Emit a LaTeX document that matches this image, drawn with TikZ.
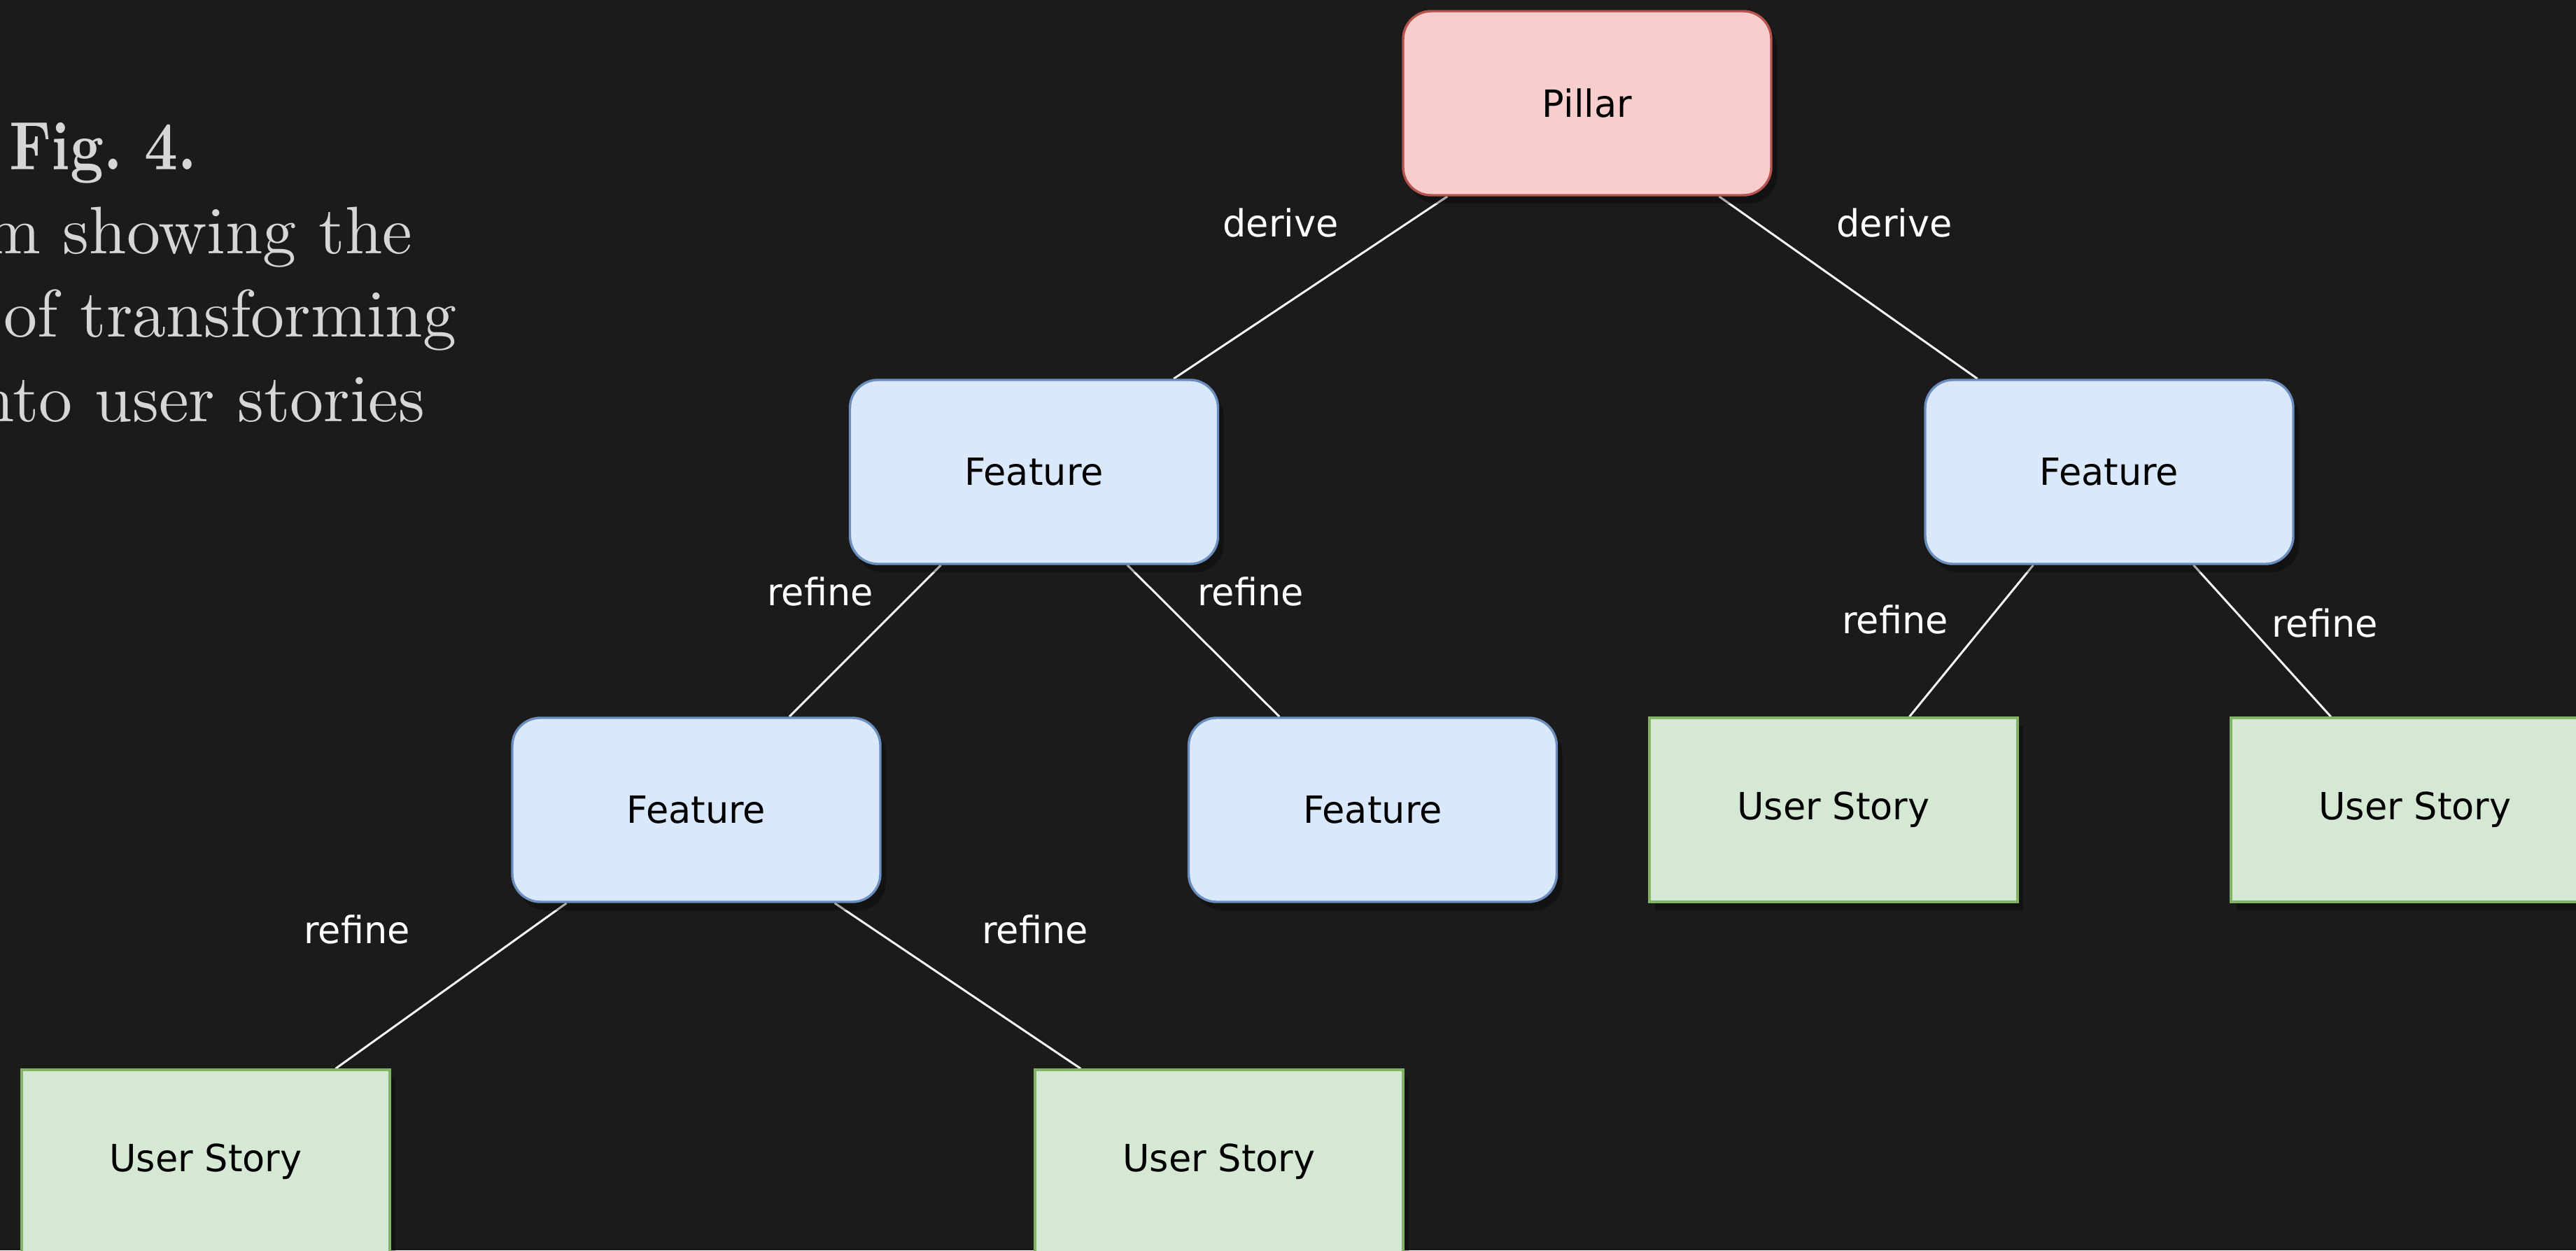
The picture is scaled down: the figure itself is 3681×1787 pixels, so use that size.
\documentclass[tikz,border=0pt]{standalone}
\usepackage{fontspec}
\setmainfont{DejaVu Sans}[FakeStretch=0.98]
\newfontfamily\capfont{lmroman10-regular.otf}
\newfontfamily\figfont{lmroman10-bold.otf}[FakeStretch=0.85]
\usetikzlibrary{shadows}
\definecolor{bgc}{RGB}{27,27,27}
\definecolor{pilfill}{HTML}{F8CECC}
\definecolor{pilline}{HTML}{B85450}
\definecolor{featfill}{HTML}{DAE8FC}
\definecolor{featline}{HTML}{6C8EBF}
\definecolor{usfill}{HTML}{D5E8D4}
\definecolor{usline}{HTML}{82B366}
\definecolor{linec}{RGB}{245,245,245}
\definecolor{capc}{RGB}{214,214,214}
\newcommand{\dgnodefont}{\fontsize{13.4pt}{16pt}\selectfont}
\pgfdeclarelayer{bgfill}
\pgfdeclarelayer{edges}
\pgfsetlayers{bgfill,edges,main}
\tikzset{
  box/.style={draw, line width=0.85pt, minimum width=131.5pt, minimum height=65.75pt,
    inner sep=0pt, font=\dgnodefont, text=black,
    general shadow={fill=black, opacity=0.3, shadow xshift=2pt, shadow yshift=-3pt}},
  pillarbox/.style={box, rounded corners=10pt, fill=pilfill, draw=pilline},
  featbox/.style={box, rounded corners=10pt, fill=featfill, draw=featline},
  storybox/.style={box, fill=usfill, draw=usline},
  conn/.style={draw=linec, line width=0.75pt},
  lbl/.style={text=white, font=\dgnodefont, inner sep=0pt, anchor=base},
  capline/.style={text=capc, inner sep=0pt, anchor=base east, font=\capfont\fontsize{24pt}{29pt}\selectfont},
  capfig/.style={text=capc, inner sep=0pt, anchor=base east, font=\figfont\fontsize{24.5pt}{29pt}\selectfont}
}
\begin{document}
\begin{tikzpicture}[x=0.25pt, y=-0.25pt]
\useasboundingbox (0,0) rectangle (3681,1787);
\begin{pgfonlayer}{bgfill}
\fill[bgc] (0,0) rectangle (3681,1787);
\end{pgfonlayer}

% caption (clipped at the left edge of the picture, as in the reference)
\node[capfig]  (c0) at (282,242) {Fig.\ 4.};
\node[capline] (c1) at (590,362) {m showing the};
\node[capline] (c2) at (653,481) {of transforming};
\node[capline] (c3) at (608,602) {nto user stories};

% nodes
\node[pillarbox] (pillar) at (2268,147.5) {Pillar};
\node[featbox]   (f1)     at (1477.5,674.5) {Feature};
\node[featbox]   (f2)     at (3014,674.5) {Feature};
\node[featbox]   (f11)    at (995,1157.5) {Feature};
\node[featbox]   (f12)    at (1961.5,1157.5) {Feature};
\node[storybox]  (us21)   at (2620,1157.5) {User Story};
\node[storybox]  (us22)   at (3451,1157.5) {User Story};
\node[storybox]  (us111)  at (294,1660.5) {User Story};
\node[storybox]  (us112)  at (1742,1660.5) {User Story};

% connectors
\begin{pgfonlayer}{edges}
\draw[conn] (pillar) -- (f1);
\draw[conn] (pillar) -- (f2);
\draw[conn] (f1) -- (f11);
\draw[conn] (f1) -- (f12);
\draw[conn] (f2) -- (us21);
\draw[conn] (f2) -- (us22);
\draw[conn] (f11) -- (us111);
\draw[conn] (f11) -- (us112);
\end{pgfonlayer}

% labels
\node[lbl] (l1) at (1830,339) {derive};
\node[lbl] (l2) at (2707,339) {derive};
\node[lbl] (l3) at (1172,865) {refine};
\node[lbl] (l4) at (1787,865) {refine};
\node[lbl] (l5) at (2708,905) {refine};
\node[lbl] (l6) at (3322,910) {refine};
\node[lbl] (l7) at (510,1348) {refine};
\node[lbl] (l8) at (1479,1348) {refine};
\end{tikzpicture}
\end{document}
